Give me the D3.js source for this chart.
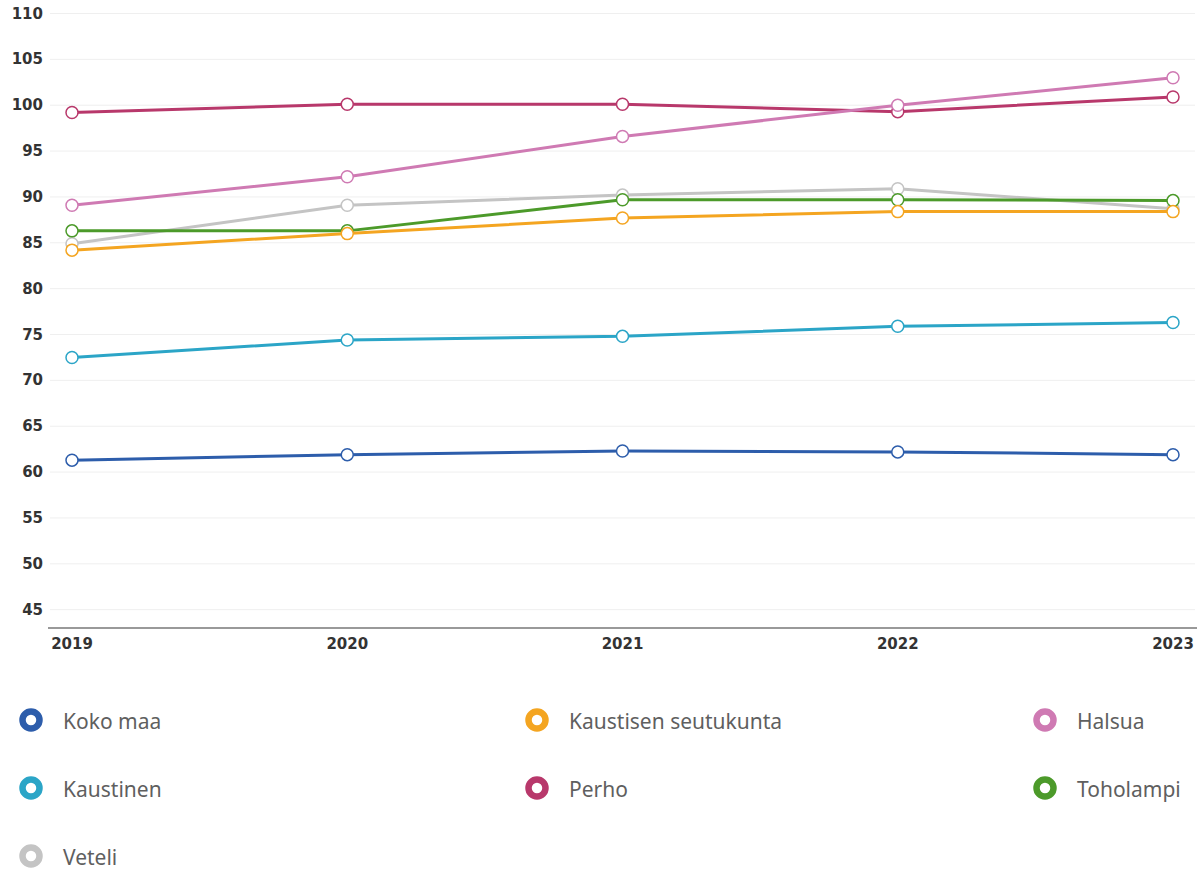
<!DOCTYPE html>
<html>
<head>
<meta charset="utf-8">
<script src="https://cdn.jsdelivr.net/npm/d3@7"></script>
<style>
  html, body { margin: 0; padding: 0; background: #ffffff; }
  svg { display: block; }
</style>
</head>
<body>
<svg id="chart" width="1202" height="873"></svg>
<script>
const years = ["2019", "2020", "2021", "2022", "2023"];
const yTicks = [45, 50, 55, 60, 65, 70, 75, 80, 85, 90, 95, 100, 105, 110];
const seriesNames = ["Koko maa", "Kaustisen seutukunta", "Halsua", "Kaustinen", "Perho", "Toholampi", "Veteli"];
const seriesColors = ["#2d5dab", "#f4a521", "#cf7ab3", "#2ba5c7", "#b8386b", "#4c9a2a", "#c4c4c4"];
const kokoMaa = [61.3, 61.9, 62.3, 62.2, 61.9];
const kaustisenSeutukunta = [84.2, 86.0, 87.7, 88.4, 88.4];
const halsua = [89.1, 92.2, 96.6, 100.0, 103.0];
const kaustinen = [72.5, 74.4, 74.8, 75.9, 76.3];
const perho = [99.2, 100.1, 100.1, 99.3, 100.9];
const toholampi = [86.3, 86.3, 89.7, 89.7, 89.6];
const veteli = [84.9, 89.1, 90.2, 90.9, 88.7];
const seriesValues = [kokoMaa, kaustisenSeutukunta, halsua, kaustinen, perho, toholampi, veteli];

const svg = d3.select("#chart");
const plotLeft = 48, plotRight = 1197, plotTop = 13.5, plotBottom = 628;

const x = d3.scalePoint().domain(years).range([72, 1173]);
const y = d3.scaleLinear().domain([43, 110]).range([plotBottom, plotTop]);

// gridlines
svg.append("g").selectAll("line").data(yTicks).join("line")
  .attr("x1", 50).attr("x2", 1195)
  .attr("y1", d => y(d)).attr("y2", d => y(d))
  .attr("stroke", "#efefef").attr("stroke-width", 1);

// y labels
svg.append("g").selectAll("text").data(yTicks).join("text")
  .attr("x", 43).attr("y", d => y(d))
  .attr("text-anchor", "end").attr("dominant-baseline", "central")
  .attr("font-family", "DejaVu Sans").attr("font-weight", "bold")
  .attr("font-size", 15).attr("fill", "#333")
  .text(d => d);

// x axis line
svg.append("line")
  .attr("x1", plotLeft).attr("x2", plotRight).attr("y1", plotBottom).attr("y2", plotBottom)
  .attr("stroke", "#999").attr("stroke-width", 2);

// x labels
svg.append("g").selectAll("text").data(years).join("text")
  .attr("x", d => x(d)).attr("y", 644)
  .attr("text-anchor", "middle").attr("dominant-baseline", "central")
  .attr("font-family", "DejaVu Sans").attr("font-weight", "bold")
  .attr("font-size", 15).attr("fill", "#333")
  .text(d => d);

const line = d3.line().x((d, i) => x(years[i])).y(d => y(d));

const order = d3.range(seriesNames.length).reverse();
order.forEach(si => {
  const g = svg.append("g");
  g.append("path").datum(seriesValues[si])
    .attr("d", line).attr("fill", "none")
    .attr("stroke", seriesColors[si]).attr("stroke-width", 3)
    .attr("stroke-linejoin", "round");
  g.selectAll("circle").data(seriesValues[si]).join("circle")
    .attr("cx", (d, i) => x(years[i])).attr("cy", d => y(d))
    .attr("r", 6).attr("fill", "#fff")
    .attr("stroke", seriesColors[si]).attr("stroke-width", 1.5);
});

// legend
const colX = [31, 537, 1045];
const rowY = [720, 788, 856];
const leg = svg.append("g").selectAll("g").data(seriesNames).join("g")
  .attr("transform", (d, i) => `translate(${colX[i % 3]},${rowY[Math.floor(i / 3)]})`);
leg.append("circle").attr("r", 8.5).attr("fill", "#fff")
  .attr("stroke", (d, i) => seriesColors[i]).attr("stroke-width", 6.5);
leg.append("text").attr("x", 32).attr("y", 1)
  .attr("dominant-baseline", "central")
  .attr("font-family", "Noto Sans").attr("font-size", 21).attr("fill", "#5f5f5f")
  .text(d => d);
</script>
</body>
</html>
